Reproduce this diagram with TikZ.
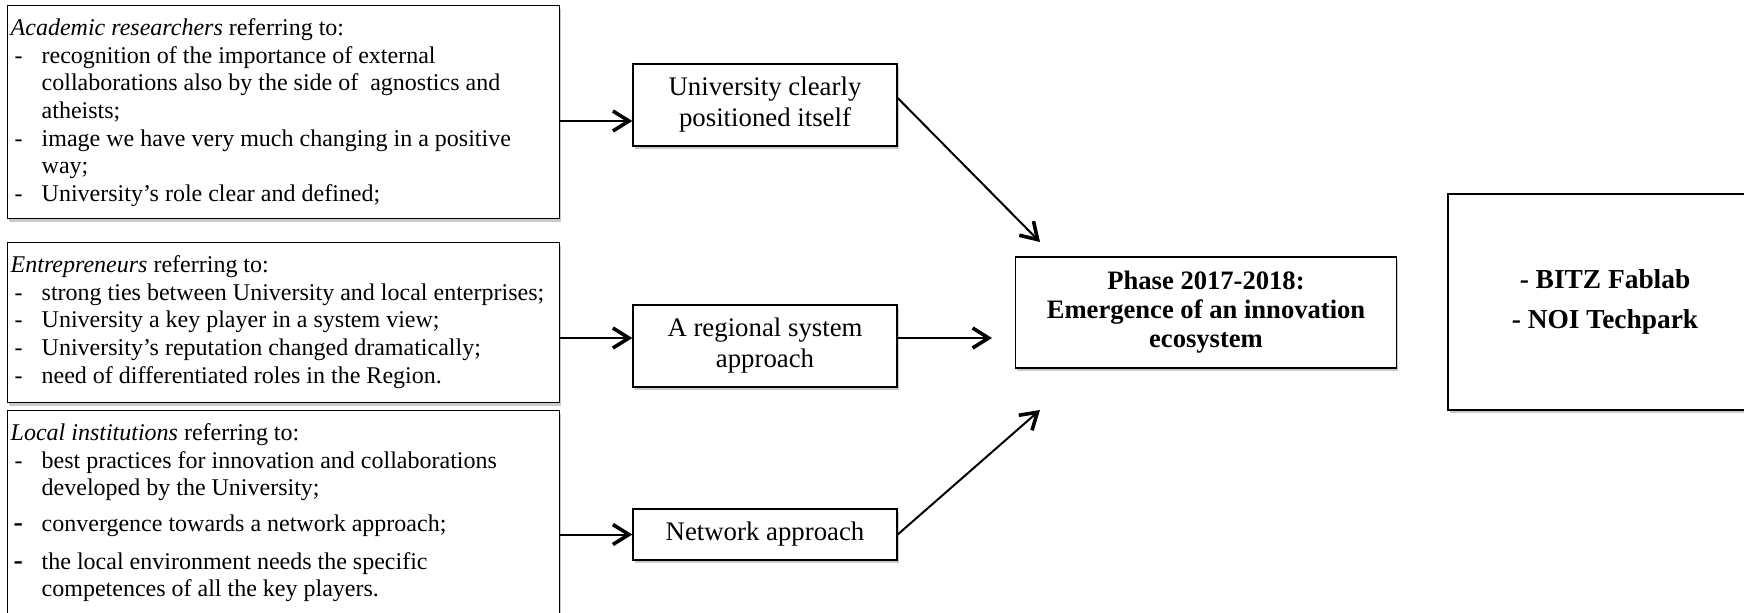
\documentclass[tikz,border=0pt]{standalone}
\usepackage{fontspec}
\setmainfont{Liberation Serif}
\usepackage{tikz}
\usetikzlibrary{arrows.meta,shadows}

\tikzset{
  boxshadow/.style={drop shadow={shadow xshift=0.8pt,shadow yshift=-1.4pt,opacity=0.35,fill=black!60}},
  quotebox/.style={draw,line width=0.7pt,fill=white,boxshadow,anchor=north west,
    inner xsep=1.5pt,inner ysep=3pt,text height=12pt,
    font=\fontsize{12}{13.8}\selectfont},
  stagebox/.style={draw,line width=0.7pt,fill=white,boxshadow,align=center,
    minimum width=132pt,inner sep=2pt,font=\fontsize{13.4}{15.5}\selectfont},
  link/.style={line width=1pt,-{Straight Barb[length=8pt,width=10pt,line width=1.8pt]}}
}
\newcommand{\itemdash}{\hspace{2pt}-}
\newcommand{\bigdash}{\hspace{1.5pt}{\fontsize{14}{14}\selectfont\bfseries -}}

\begin{document}
\begin{tikzpicture}[x=0.5pt,y=0.5pt,yscale=-1,xscale=1]
\useasboundingbox (0,0) rectangle (1744,612);

% Text Node
\node (academic) [quotebox,text depth=88.5pt] at (7,5) {%
\begin{tabular}[t]{@{}p{15.5pt}@{}p{257.5pt}@{}}
\multicolumn{2}{@{}l@{}}{\textit{Academic researchers} referring to:}\\
\itemdash & recognition of the importance of external\\
  & collaborations also by the side of ~agnostics and\\
  & atheists;\\
\itemdash & image we have very much changing in a positive\\
  & way;\\
\itemdash & University’s role clear and defined;
\end{tabular}};

% Text Node
\node (entrepreneurs) [quotebox,text depth=62pt] at (7,242) {%
\begin{tabular}[t]{@{}p{15.5pt}@{}p{257.5pt}@{}}
\multicolumn{2}{@{}l@{}}{\textit{Entrepreneurs} referring to:}\\
\itemdash & strong ties between University and local enterprises;\\
\itemdash & University a key player in a system view;\\
\itemdash & University’s reputation changed dramatically;\\
\itemdash & need of differentiated roles in the Region.
\end{tabular}};

% Text Node
\node (institutions) [quotebox,text depth=84pt] at (7,410) {%
\begin{tabular}[t]{@{}p{15.5pt}@{}p{257.5pt}@{}}
\multicolumn{2}{@{}l@{}}{\textit{Local institutions} referring to:}\\
\itemdash & best practices for innovation and collaborations\\
  & developed by the University;\\[4pt]
\bigdash & convergence towards a network approach;\\[5pt]
\bigdash & the local environment needs the specific\\
  & competences of all the key players.
\end{tabular}};

% Text Node
\node (univ) [stagebox,minimum height=41pt] at (765,105) {University clearly\\positioned itself};
% Text Node
\node (region) [stagebox,minimum height=41pt] at (765,346) {A regional system\\approach};
% Text Node
\node (network) [stagebox,minimum height=25.5pt] at (765,534.5) {Network approach};

% Text Node
\node (phase) [draw,line width=0.7pt,fill=white,boxshadow,align=center,minimum width=190.5pt,
  minimum height=55.5pt,font=\bfseries\fontsize{13.3}{14.5}\selectfont] at (1206,312.5)
  {Phase 2017-2018:\\Emergence of an innovation\\ecosystem};

% Text Node
\node (places) [draw,line width=0.7pt,fill=white,boxshadow,align=center,minimum width=157pt,
  minimum height=108pt,font=\bfseries\fontsize{13.7}{20}\selectfont] at (1605,302)
  {- BITZ Fablab\\- NOI Techpark};

% yscale=-1: a positive yshift moves down
\coordinate (univ-in) at ([yshift=8pt]univ.west);
\coordinate (univ-out) at ([yshift=-3.5pt]univ.east);
\coordinate (region-in) at ([yshift=-4pt]region.west);
\coordinate (region-out) at ([yshift=-4pt]region.east);
\coordinate (tip-top) at (1040,242);
\coordinate (tip-mid) at (992,338);
\coordinate (tip-low) at (1040,410);

%Straight Lines
\draw [link] (academic.east |- univ-in) -- (univ-in);
\draw [link] (entrepreneurs.east |- region-in) -- (region-in);
\draw [link] (institutions.east |- network.west) -- (network.west);
\draw [link] (univ-out) -- (tip-top);
\draw [link] (region-out) -- (tip-mid);
\draw [link] (network.east) -- (tip-low);

\end{tikzpicture}
\end{document}
